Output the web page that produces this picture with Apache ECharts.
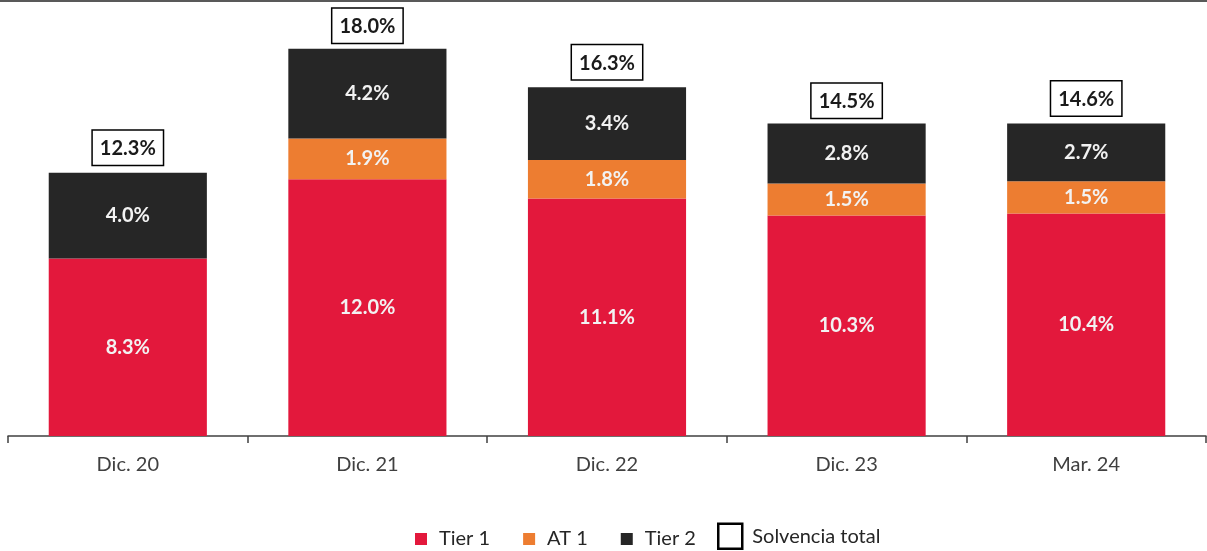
<!DOCTYPE html>
<html>
<head>
<meta charset="utf-8">
<script src="https://cdn.jsdelivr.net/npm/echarts@6/dist/echarts.min.js"></script>
<style>
html,body{margin:0;padding:0;background:#fff;}
#chart{width:1207px;height:551px;}
</style>
</head>
<body>
<div id="chart"></div>
<script>
const categories = ['Dic. 20', 'Dic. 21', 'Dic. 22', 'Dic. 23', 'Mar. 24'];
const tier1 = [8.3, 12.0, 11.1, 10.3, 10.4];
const at1 = [0, 1.9, 1.8, 1.5, 1.5];
const tier2 = [4.0, 4.2, 3.4, 2.8, 2.7];
const totals = [12.3, 18.0, 16.3, 14.5, 14.6];

const FONT = 'Lato, "Open Sans", sans-serif';
const segLabel = {
  show: true,
  position: 'inside',
  color: '#f2f2f2',
  fontFamily: FONT,
  fontWeight: 'bold',
  fontSize: 20,
  formatter: p => (p.value ? p.value.toFixed(1) + '%' : '')
};

const chart = echarts.init(document.getElementById('chart'));
chart.setOption({
  animation: false,
  backgroundColor: '#fff',
  graphic: [{
    type: 'rect', left: 0, top: 0,
    shape: {width: 1207, height: 2},
    style: {fill: '#595959'}
  }],
  grid: {left: 8, right: 1, top: 8, bottom: 115},
  xAxis: {
    type: 'category',
    data: categories,
    axisLine: {lineStyle: {color: '#404040', width: 1.5}},
    axisTick: {show: true, length: 7, lineStyle: {color: '#404040', width: 1.5}},
    axisLabel: {color: '#404040', fontFamily: FONT, fontSize: 20, margin: 19}
  },
  yAxis: {type: 'value', min: 0, max: 20, show: false, splitLine: {show: false}},
  legend: [{
    bottom: 2, left: 415, padding: 0,
    selectedMode: false,
    itemWidth: 12, itemHeight: 12, itemGap: 33,
    icon: 'rect',
    textStyle: {color: '#262626', fontFamily: FONT, fontSize: 20, padding: [0, 0, 0, 7]},
    data: ['Tier 1', 'AT 1', 'Tier 2']
  }, {
    bottom: 1, left: 717, padding: 0,
    selectedMode: false,
    itemWidth: 24, itemHeight: 25,
    icon: 'rect',
    textStyle: {color: '#262626', fontFamily: FONT, fontSize: 20, padding: [0, 0, 0, 5]},
    data: [{name: 'Solvencia total', itemStyle: {color: '#fff', borderColor: '#000', borderWidth: 2.5}}]
  }],
  series: [{
    name: 'Tier 1', type: 'bar', stack: 's', barWidth: '66%',
    data: tier1, itemStyle: {color: '#E3183C'}, label: segLabel
  }, {
    name: 'AT 1', type: 'bar', stack: 's',
    data: at1, itemStyle: {color: '#ED7D31'}, label: segLabel
  }, {
    name: 'Tier 2', type: 'bar', stack: 's',
    data: tier2, itemStyle: {color: '#262626'}, label: segLabel
  }, {
    name: 'Solvencia total', type: 'bar', barWidth: '66%', barGap: '-100%',
    data: totals,
    itemStyle: {color: 'rgba(0,0,0,0)'},
    z: 1,
    label: {
      show: true, position: 'top', distance: 8,
      color: '#1a1a1a', fontFamily: FONT, fontWeight: 'bold', fontSize: 20,
      borderColor: '#000', borderWidth: 1.5, backgroundColor: '#fff',
      padding: [8, 7, 6, 7],
      formatter: p => p.value.toFixed(1) + '%'
    }
  }]
});
</script>
</body>
</html>
